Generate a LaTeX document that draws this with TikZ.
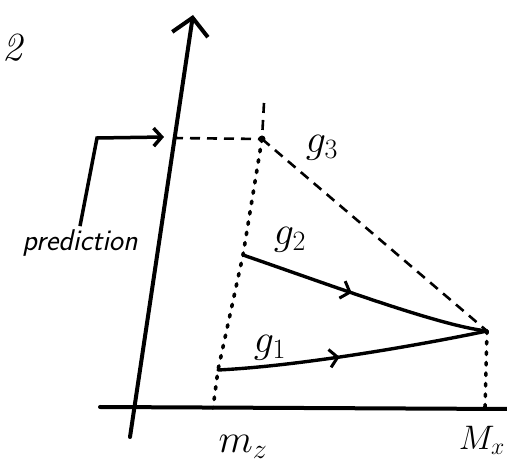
\RequirePackage{fix-cm}
\documentclass[tikz,border=0pt]{standalone}
\usetikzlibrary{arrows.meta,decorations.markings}

\begin{document}
\begin{tikzpicture}[x=1pt, y=-1pt,
  axis/.style={line width=4pt, line cap=round},
  guide/.style={line width=2.6pt, dash pattern=on 10pt off 7pt},
  dotline/.style={line width=3.6pt, line cap=round, dash pattern=on 2.5pt off 8pt},
  flow/.style={line width=3.4pt, line cap=round, postaction={decorate},
    decoration={markings, mark=at position 0.45 with {\arrow{Straight Barb[length=8pt, width=18pt, line width=3pt]}}}},
  lbl/.style={font=\fontsize{40}{40}\selectfont\itshape},
]
\useasboundingbox (0,0) rectangle (507,470);

% === axes ===
\coordinate (o) at (130,437);
\coordinate (ytop) at (193,15);
\coordinate (xl) at (100,407);
\coordinate (xr) at (507,409);
\draw[axis, -{Straight Barb[length=17pt, width=36pt, line width=4pt]}] (o) -- (ytop);
\draw[axis] (xl) -- (xr);

% === points ===
\coordinate (yp) at (173,138);
\coordinate (g3) at (262,139);
\coordinate (g3top) at (264,103);
\coordinate (g2s) at (243,255);
\coordinate (g1s) at (218,370);
\coordinate (mx) at (487,331);
\coordinate (mzb) at (213,408);
\coordinate (mxb) at (485,408);

% === guides ===
\draw[guide] (yp) -- (g3);
\draw[guide] (g3top) -- (g3);
\draw[guide] (g3) -- (mx);
\draw[dotline] (g3) -- (g2s) -- (g1s) -- (mzb);
\draw[dotline] (mx) -- (mxb);
\fill (g3) circle (3.5pt);

% === g1, g2 ===
\draw[flow] (g2s) .. controls (330,285) and (440,326) .. (mx);
\draw[flow] (g1s) .. controls (300,366) and (420,345) .. (mx);

% === labels ===
\node[lbl] (l3) at (322,148) {$g_3$};
\node[lbl] (l2) at (290,240) {$g_2$};
\node[lbl] (l1) at (270,348) {$g_1$};
\node[lbl] (lmz) at (243,447) {$m_z$};
\node[lbl, font=\fontsize{34}{34}\selectfont, anchor=east, inner sep=1pt] (lmx) at (506,440) {$M_x$};
\node[lbl, anchor=west, inner sep=1pt] (ltop) at (1,48) {2};

% === prediction ===
\node[font=\fontsize{30}{30}\selectfont\sffamily\itshape] (pred) at (80,243) {prediction};
\coordinate (pbend) at (97,138);
\coordinate (ptip) at (164,137);
\draw[line width=3.5pt, -{Straight Barb[length=8pt, width=18pt, line width=3.5pt]}] (pred.north) -- (pbend) -- (ptip);

\end{tikzpicture}
\end{document}
